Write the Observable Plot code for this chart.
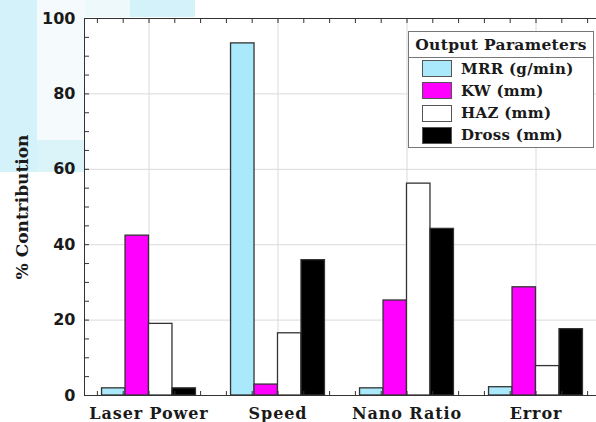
<!DOCTYPE html>
<html><head><meta charset="utf-8">
<script src="https://cdn.jsdelivr.net/npm/d3@7"></script>
<script src="https://cdn.jsdelivr.net/npm/@observablehq/plot@0.6"></script>
<style>
html,body{margin:0;padding:0;background:#fff;overflow:hidden;}
#wrap{position:relative;width:596px;height:422px;overflow:hidden;}
.wm{position:absolute;}
#chart{position:absolute;left:0;top:0;}
#chart svg{background:transparent;max-width:none;}
#chart g[aria-label="x-axis tick label"] text{letter-spacing:0.9px;}
.legend{position:absolute;left:408px;top:31px;width:186px;height:117px;border:1px solid #777;background:#fff;font-family:"DejaVu Serif",serif;font-weight:bold;color:#1a1a1a;box-sizing:border-box;}
.legend .title{height:25px;line-height:25px;text-align:center;font-size:15.5px;border-bottom:1px solid #777;letter-spacing:0.3px;}
.legend .row{position:absolute;left:13px;height:17px;display:flex;align-items:center;font-size:15px;white-space:nowrap;letter-spacing:0.3px;}
.legend .sw{width:28px;height:15px;border:1.5px solid #555;margin-right:9px;}
</style>
</head><body>
<div id="wrap">
  <div class="wm" style="left:0;top:0;width:37px;height:172px;background:#d4f2f9"></div>
  <div class="wm" style="left:37px;top:0;width:48px;height:140px;background:#f5fbfd"></div>
  <div class="wm" style="left:37px;top:140px;width:48px;height:32px;background:#daf4fa"></div>
  <div class="wm" style="left:85px;top:0;width:45px;height:17px;background:#eef9fc"></div>
  <div class="wm" style="left:130px;top:0;width:65px;height:17px;background:#d4f2f9"></div>
  <div id="chart"></div>
  <div class="legend" id="legend"><div class="title">Output Parameters</div></div>
</div>
<script>
const categories = ["Laser Power", "Speed", "Nano Ratio", "Error"];
const series = ["MRR (g/min)", "KW (mm)", "HAZ (mm)", "Dross (mm)"];
const mrr   = [1.9, 93.4, 1.9, 2.2];
const kw    = [42.4, 2.9, 25.2, 28.7];
const haz   = [19.0, 16.5, 56.2, 7.8];
const dross = [1.9, 35.9, 44.2, 17.6];
const colors = ["#a9e9fb", "#ff00ff", "#ffffff", "#000000"];
const yTicks = [0, 20, 40, 60, 80, 100];

const values = [mrr, kw, haz, dross];
const barW = 0.182; // bar width in category units
const bars = [];
categories.forEach((c, i) => {
  series.forEach((s, j) => {
    bars.push({category: c, ci: i + 1, si: j, series: s, value: values[j][i]});
  });
});

const minorX = d3.range(6, 45, 2).map(d => d / 10);
const minorY = d3.range(0, 101, 5);
const tickCol = "#333";

const chart = Plot.plot({
  width: 596, height: 422,
  marginLeft: 84, marginRight: -4, marginTop: 18, marginBottom: 27,
  x: {domain: [0.5, 4.5]},
  y: {domain: [0, 100]},
  color: {domain: series, range: colors},
  style: {background: "transparent", color: "#1a1a1a"},
  marks: [
    Plot.gridX({ticks: [1, 2, 3, 4], stroke: "#dadada", strokeOpacity: 1}),
    Plot.gridY({ticks: [20, 40, 60, 80], stroke: "#dadada", strokeOpacity: 1}),
    Plot.rectY(bars, {
      x1: d => d.ci - 2 * barW + d.si * barW,
      x2: d => d.ci - 2 * barW + (d.si + 1) * barW,
      y: "value", fill: "series", stroke: "#333", strokeWidth: 1.3
    }),
    Plot.ruleY([0, 100], {stroke: tickCol}),
    Plot.ruleX([0.5, 4.5], {stroke: tickCol}),
    Plot.axisY({anchor: "left", ticks: minorY, tickSize: 5, dx: 5, text: null, label: null, stroke: tickCol}),
    Plot.axisY({anchor: "right", ticks: minorY, tickSize: 5, dx: -5, text: null, label: null, stroke: tickCol}),
    Plot.axisX({anchor: "bottom", ticks: minorX, tickSize: 4, dy: -4, text: null, label: null, stroke: tickCol}),
    Plot.axisX({anchor: "top", ticks: minorX, tickSize: 4, dy: 4, text: null, label: null, stroke: tickCol}),
    Plot.axisY({anchor: "left", ticks: yTicks, tickSize: 0, tickPadding: 9, label: null,
      fontFamily: "DejaVu Sans", fontSize: 16, fontWeight: "bold", fill: "#1a1a1a"}),
    Plot.axisX({anchor: "bottom", ticks: [1, 2, 3, 4], tickFormat: d => categories[d - 1],
      tickSize: 0, tickPadding: 12, label: null,
      fontFamily: "DejaVu Serif", fontSize: 16, fontWeight: "bold", fill: "#1a1a1a"}),
    Plot.text(["% Contribution"], {text: d => d, frameAnchor: "left", rotate: -90, dx: -62,
      textAnchor: "middle", lineAnchor: "middle",
      fontFamily: "DejaVu Serif", fontSize: 17, fontWeight: "bold", fill: "#1a1a1a"})
  ]
});
document.getElementById("chart").appendChild(chart);

const legend = document.getElementById("legend");
series.forEach((s, j) => {
  const row = document.createElement("div");
  row.className = "row";
  row.style.top = (28 + 22.3 * j) + "px";
  const sw = document.createElement("div");
  sw.className = "sw";
  sw.style.background = colors[j];
  row.appendChild(sw);
  row.appendChild(document.createTextNode(s));
  legend.appendChild(row);
});
</script>
</body></html>
